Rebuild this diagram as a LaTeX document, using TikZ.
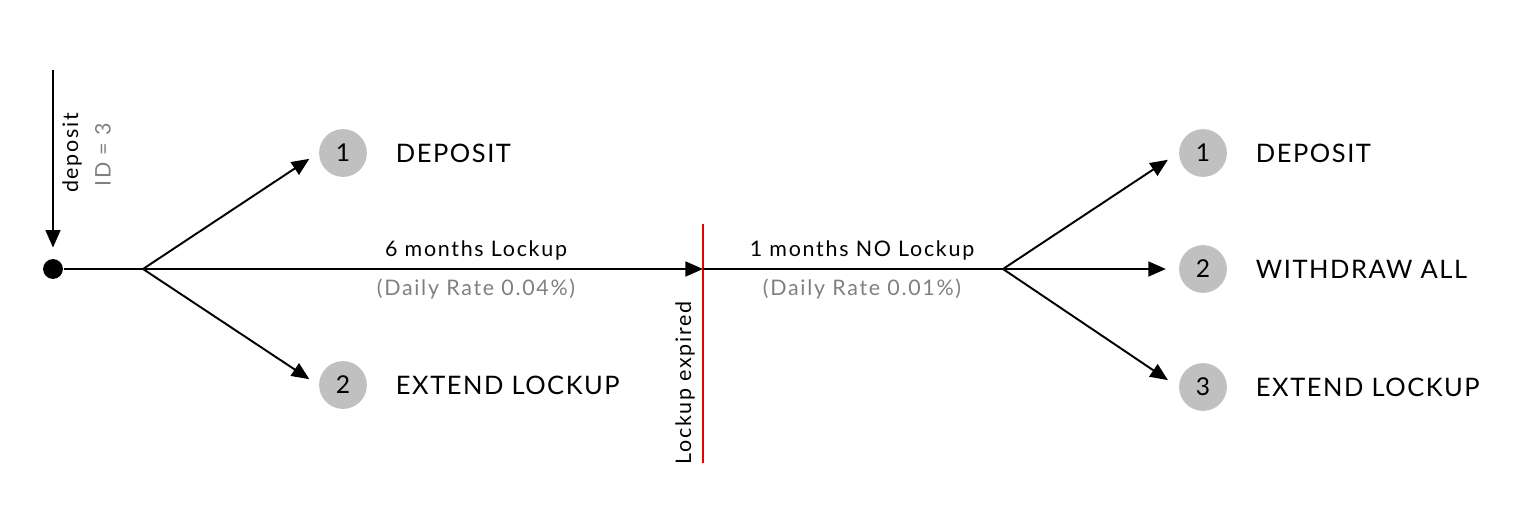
\documentclass[tikz,border=0pt]{standalone}
\usepackage{fontspec}
\setmainfont{Lato}
\newfontfamily\actfont[LetterSpace=6]{Lato}
\newfontfamily\lblfont[LetterSpace=8]{Lato}
\usetikzlibrary{arrows.meta}

\definecolor{numgray}{RGB}{192,192,192}
\definecolor{rategray}{RGB}{128,128,128}
\definecolor{expirered}{RGB}{230,0,0}

\begin{document}
\begin{tikzpicture}[x=0.02cm,y=-0.02cm,line width=1.1pt,
        tip/.style={-{Triangle[length=10pt,width=8.5pt]}},
        num/.style={circle,fill=numgray,minimum size=27.2pt,inner sep=0pt,font=\fontsize{14}{16}\selectfont},
        act/.style={anchor=west,inner sep=0pt,font=\actfont\fontsize{14.5}{16}\selectfont},
        lbl/.style={inner sep=0pt,font=\lblfont\fontsize{12.2}{14}\selectfont},
        rate/.style={lbl,text=rategray}]

        % \draw [help lines] (0,0) grid (1522,518);
        \useasboundingbox (0,0) rectangle (1522,518);

        \path   (53,269) node (start) [circle,fill=black,inner sep=0pt,minimum size=11.3pt] {}
                (53,70) coordinate (dtop)
                (143,269) coordinate (split1)
                (703,269) coordinate (expire)
                (703,224) coordinate (rtop)
                (703,463) coordinate (rbot)
                (1003,269) coordinate (split2)
                (343,153) node (a1) [num] {1}
                (343,385) node (a2) [num] {2}
                (1203,153) node (b1) [num] {1}
                (1203,269) node (b2) [num] {2}
                (1203,387) node (b3) [num] {3};

        % first period
        \draw[tip,shorten >=6pt] (dtop) -- (start.north);
        \draw[tip] (start) -- (expire);
        \draw[tip,shorten >=6pt] (split1) -- (a1.west);
        \draw[tip,shorten >=6pt] (split1) -- (a2.west);

        % lockup expired
        \draw[expirered,line width=0.9pt] (rtop) -- (rbot);

        % second period
        \draw (expire) -- (split2);
        \draw[tip,shorten >=7pt] (split2) -- (b1.west);
        \draw[tip,shorten >=7pt] (split2) -- (b2.west);
        \draw[tip,shorten >=7pt] (split2) -- (b3.west);

        \node (dlbl) [lbl,rotate=90] at (72,153) {deposit};
        \node (idlbl) [rate,rotate=90] at (103,155) {ID = 3};
        \node (exlbl) [lbl,rotate=90] at (685,383) {Lockup expired};

        \node (lock6) [lbl] at (476,250) {6 months Lockup};
        \node (rate6) [rate] at (476,289) {(Daily Rate 0.04\%)};
        \node (lock1) [lbl] at (862,250) {1 months NO Lockup};
        \node (rate1) [rate] at (862,289) {(Daily Rate 0.01\%)};

        \node (ta1) [act] at (395,153) {DEPOSIT};
        \node (ta2) [act] at (395,385) {EXTEND LOCKUP};
        \node (tb1) [act] at (1255,153) {DEPOSIT};
        \node (tb2) [act] at (1255,269) {WITHDRAW ALL};
        \node (tb3) [act] at (1255,387) {EXTEND LOCKUP};

\end{tikzpicture}
\end{document}
